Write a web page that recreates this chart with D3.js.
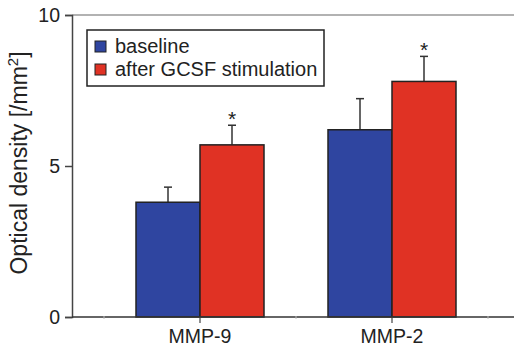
<!DOCTYPE html>
<html>
<head>
<meta charset="utf-8">
<script src="https://cdn.jsdelivr.net/npm/d3@7"></script>
<style>
  body { margin: 0; background: #fff; }
  text { font-family: "Liberation Sans", Arial, sans-serif; fill: #222; }
</style>
</head>
<body>
<div class="container"></div>
<script>
// data
var categories = ["MMP-9", "MMP-2"];
var seriesNames = ["baseline", "after GCSF stimulation"];
var baseline = [3.8, 6.2];
var baselineErr = [0.5, 1.03];
var gcsf = [5.7, 7.8];
var gcsfErr = [0.65, 0.83];
var significant = [true, true];
var yTicks = [0, 5, 10];

var width = 514, height = 353;
var colors = ["#2f45a0", "#e03224"];

var svg = d3.select(".container").append("svg")
    .attr("width", width)
    .attr("height", height);

var plotLeft = 72, plotRight = 514, plotTop = 15, plotBottom = 317;

var y = d3.scaleLinear().domain([0, 10]).range([plotBottom, plotTop]);
var x = d3.scaleBand().domain(categories).range([104, 488]).paddingInner(0).paddingOuter(0);
var xs = d3.scaleBand().domain(seriesNames).range([0, x.bandwidth()]).paddingInner(0).paddingOuter(0.5);

// top frame line
svg.append("line")
    .attr("x1", plotLeft).attr("x2", plotRight)
    .attr("y1", plotTop).attr("y2", plotTop)
    .attr("stroke", "#999").attr("stroke-width", 1.5);

// bars
var rows = categories.map(function(c, i)
{
    return [
        {cat: c, s: seriesNames[0], v: baseline[i], e: baselineErr[i], sig: false, k: 0},
        {cat: c, s: seriesNames[1], v: gcsf[i], e: gcsfErr[i], sig: significant[i], k: 1}
    ];
});
var flat = [].concat.apply([], rows);

var g = svg.selectAll("g.bar").data(flat).enter().append("g").attr("class", "bar");

// error bars drawn first
g.append("line")
    .attr("x1", function(d) { return x(d.cat) + xs(d.s) + xs.bandwidth() / 2; })
    .attr("x2", function(d) { return x(d.cat) + xs(d.s) + xs.bandwidth() / 2; })
    .attr("y1", function(d) { return y(d.v); })
    .attr("y2", function(d) { return y(d.v + d.e); })
    .attr("stroke", "#333").attr("stroke-width", 1.5);
g.append("line")
    .attr("x1", function(d) { return x(d.cat) + xs(d.s) + xs.bandwidth() / 2 - 4; })
    .attr("x2", function(d) { return x(d.cat) + xs(d.s) + xs.bandwidth() / 2 + 4; })
    .attr("y1", function(d) { return y(d.v + d.e); })
    .attr("y2", function(d) { return y(d.v + d.e); })
    .attr("stroke", "#333").attr("stroke-width", 1.5);

g.append("rect")
    .attr("x", function(d) { return x(d.cat) + xs(d.s); })
    .attr("width", xs.bandwidth())
    .attr("y", function(d) { return y(d.v); })
    .attr("height", function(d) { return y(0) - y(d.v); })
    .attr("fill", function(d) { return colors[d.k]; })
    .attr("stroke", "#222").attr("stroke-width", 1.5);

g.filter(function(d) { return d.sig; }).append("text")
    .attr("x", function(d) { return x(d.cat) + xs(d.s) + xs.bandwidth() / 2; })
    .attr("y", function(d) { return y(d.v + d.e) + 1; })
    .attr("text-anchor", "middle")
    .style("font-size", "21px")
    .text("*");

// y axis
var yAxis = svg.append("g")
    .attr("transform", "translate(" + plotLeft + ",0)")
    .call(d3.axisLeft(y).tickValues(yTicks).tickSize(7).tickPadding(5));
yAxis.select(".domain").attr("stroke", "#444").attr("stroke-width", 1.5);
yAxis.selectAll(".tick line").attr("stroke", "#444").attr("stroke-width", 1.5);
yAxis.selectAll("text").style("font-size", "19.5px").attr("fill", "#222");

// x axis
svg.append("line")
    .attr("x1", plotLeft).attr("x2", plotRight)
    .attr("y1", plotBottom).attr("y2", plotBottom)
    .attr("stroke", "#333").attr("stroke-width", 1.5);

var xAxis = svg.append("g")
    .attr("transform", "translate(0," + plotBottom + ")")
    .call(d3.axisBottom(x).tickSize(6).tickPadding(6));
xAxis.select(".domain").remove();
xAxis.selectAll(".tick line").attr("stroke", "#444").attr("stroke-width", 1.2);
xAxis.selectAll("text").style("font-size", "19.5px").attr("fill", "#222");

// faint minor ticks at category boundaries
var bounds = categories.map(function(c) { return x(c); }).concat([x(categories[categories.length - 1]) + x.bandwidth()]);
svg.selectAll("line.minor").data(bounds).enter().append("line")
    .attr("class", "minor")
    .attr("x1", function(d) { return d; }).attr("x2", function(d) { return d; })
    .attr("y1", plotBottom - 1).attr("y2", plotBottom + 2)
    .attr("stroke", "#bbb").attr("stroke-width", 1);

// y label
svg.append("text")
    .attr("transform", "translate(27,163) rotate(-90)")
    .attr("text-anchor", "middle")
    .style("font-size", "23px")
    .html("Optical density [/mm<tspan dy='-9' font-size='15px'>2</tspan><tspan dy='9'>]</tspan>");

// legend
var legend = svg.append("g");
legend.append("rect")
    .attr("x", 87).attr("y", 30).attr("width", 237).attr("height", 56)
    .attr("fill", "#fff").attr("stroke", "#222").attr("stroke-width", 1.5);
var li = legend.selectAll("g.li").data(seriesNames).enter().append("g")
    .attr("transform", function(d, i) { return "translate(95," + (41 + i * 23) + ")"; });
li.append("rect")
    .attr("width", 11).attr("height", 11)
    .attr("fill", function(d, i) { return colors[i]; })
    .attr("stroke", "#222").attr("stroke-width", 1);
li.append("text")
    .attr("x", 20).attr("y", 12)
    .style("font-size", "20px")
    .text(function(d) { return d; });
</script>
</body>
</html>
